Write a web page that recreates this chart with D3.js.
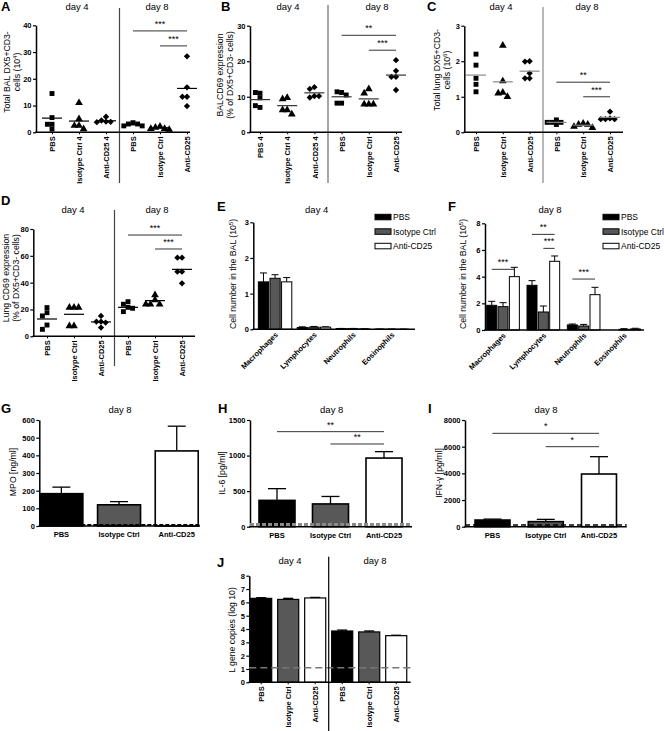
<!DOCTYPE html>
<html><head><meta charset="utf-8">
<script src="https://cdn.jsdelivr.net/npm/d3@7"></script>
<style>
body{margin:0;background:#fff;}
svg{display:block;font-family:'Liberation Sans',Arial,Helvetica,sans-serif;}
</style></head><body>
<script>
// ================= DATA =================
const dayLabels = ["day 4", "day 8"];
const labelsA = ["PBS", "Isotype Ctrl 4", "Anti-CD25 4", "PBS", "Isotype Ctrl", "Anti-CD25"];
const labelsB = ["PBS 4", "Isotype Ctrl 4", "Anti-CD25 4", "PBS", "Isotype Ctrl", "Anti-CD25"];
const labelsCD = ["PBS", "Isotype Ctrl", "Anti-CD25", "PBS", "Isotype Ctrl", "Anti-CD25"];

// A: Total BAL DX5+CD3- cells (10^4)
const valuesA = [[14.5, 5.5, 3, 3, 1.2], [11, 5, 2.5, 2.5, 1.2], [5.8, 4.4, 4, 3.9, 3.8],
                 [3.6, 3.1, 3.1, 2.4, 2.4], [2.2, 1.8, 1.3, 1.3, 1.0], [28.4, 16.8, 13.3, 13.3, 9.8]];
const meansA = [5.3, 4.2, 4.3, 2.8, 1.7, 16.4];
const ticksA = [0, 10, 20, 30, 40];
const sigA = [{a: 3, b: 5, v: 37.9, t: "***"}, {a: 4, b: 5, v: 32.3, t: "***"}];

// B: BALCD69 expression (% of DX5+CD3- cells)
const valuesB = [[11, 11.2, 9.7, 7, 7.5], [9.7, 9.4, 6.3, 6.3, 5.1], [12.7, 12.2, 10.2, 9.8, 10.2],
                 [11.2, 11.4, 10.5, 8.2, 8.2], [12.2, 11, 7.9, 7.9, 7.9], [20.3, 17.3, 15.6, 15.6, 11.9]];
const meansB = [9.2, 7.5, 11.1, 10.0, 9.4, 16.1];
const ticksB = [0, 10, 20, 30];
const sigB = [{a: 3, b: 5, v: 27.3, t: "**"}, {a: 4, b: 5, v: 23.1, t: "***"}];

// C: Total lung DX5+CD3- cells (10^6)
const valuesC = [[2.2, 1.89, 1.52, 1.35, 1.14], [2.44, 1.44, 1.12, 1.1, 1.0], [2.0, 1.99, 1.66, 1.52, 1.52],
                 [0.35, 0.28, 0.28, 0.28, 0.22], [0.25, 0.22, 0.22, 0.16, 0.13], [0.58, 0.39, 0.37, 0.37, 0.37]];
const meansC = [1.61, 1.42, 1.72, 0.28, 0.2, 0.42];
const ticksC = [0, 1, 2, 3];
const sigC = [{a: 3, b: 5, v: 1.41, t: "**"}, {a: 4, b: 5, v: 1.0, t: "***"}];

// D: Lung CD69 expression (% of DX5+CD3- cells)
const valuesD = [[21.4, 17.6, 15.2, 8.4, 5.2], [21.4, 21.4, 21.4, 7.7, 7.7], [15.2, 10.9, 10.9, 10.2, 6.5],
                 [25.8, 23.9, 21.6, 20.9, 18.4], [30.8, 27.1, 23.9, 23.9, 23.9], [58.6, 58.6, 48.2, 48.2, 39.5]];
const meansD = [12.9, 16.4, 10.7, 21.6, 26.6, 49.9];
const ticksD = [0, 20, 40, 60, 80];
const sigD = [{a: 3, b: 5, v: 75.5, t: "***"}, {a: 4, b: 5, v: 65.1, t: "***"}];

// E / F: Cell number in the BAL (10^5)
const cellTypes = ["Macrophages", "Lymphocytes", "Neutrophils", "Eosinophils"];
const treatments = ["PBS", "Isotype Ctrl", "Anti-CD25"];
const meansE = [[1.33, 0.05, 0.02, 0.005], [1.43, 0.06, 0.02, 0.005], [1.33, 0.06, 0.012, 0.003]];
const errE = [[0.25, 0.02, 0.005, 0.002], [0.1, 0.02, 0.005, 0.002], [0.12, 0.01, 0.003, 0.001]];
const ticksE = [0, 1, 2, 3];
const meansF = [[1.85, 3.35, 0.38, 0], [1.75, 1.35, 0.3, 0.05], [4.0, 5.15, 2.65, 0.08]];
const errF = [[0.3, 0.35, 0.07, 0], [0.3, 0.45, 0.12, 0.05], [0.7, 0.4, 0.55, 0.05]];
const ticksF = [0, 2, 4, 6, 8];
const sigF = [{g: 0, a: 0, b: 2, v: 4.55, t: "***"}, {g: 1, a: 0, b: 2, v: 7.17, t: "**"},
              {g: 1, a: 1, b: 2, v: 6.12, t: "***"}, {g: 2, a: 0, b: 2, v: 3.82, t: "***"}];

// G / H / I
const barLabels = ["PBS", "Isotype Ctrl", "Anti-CD25"];
const mpo = [183, 120, 425];
const mpoErr = [37, 18, 140];
const ticksG = [0, 100, 200, 300, 400, 500, 600];
const mpoLimit = 5;
const il6 = [370, 320, 965];
const il6Err = [165, 105, 90];
const ticksH = [0, 500, 1000, 1500];
const il6Limit = 30;
const sigH = [{a: 0, b: 2, v: 1336, t: "**"}, {a: 1, b: 2, v: 1163, t: "**"}];
const ifng = [500, 380, 3950];
const ifngErr = [70, 170, 1300];
const ticksI = [0, 2000, 4000, 6000, 8000];
const ifngLimit = 130;
const sigI = [{a: 0, b: 2, v: 7000, t: "*"}, {a: 1, b: 2, v: 6000, t: "*"}];

// J: L gene copies (log 10)
const lgene = [6.3, 6.22, 6.33, 3.85, 3.78, 3.5];
const lgeneErr = [0.05, 0.08, 0.04, 0.07, 0.07, 0.03];
const ticksJ = [0, 1, 2, 3, 4, 5, 6, 7, 8];
const lgeneLimit = 1.1;

// ================= DRAWING =================
const FF = "'Liberation Sans',Arial,Helvetica,sans-serif";
const fills = ["#000000", "#585858", "#ffffff"];
const svg = d3.select("body").append("svg").attr("width", 664).attr("height", 731);

function letter(t, x, y) {
  svg.append("text").attr("x", x).attr("y", y).attr("font-size", 13).attr("font-weight", "bold").text(t);
}
function dayText(t, x, y) {
  svg.append("text").attr("x", x).attr("y", y).attr("text-anchor", "middle").attr("font-size", 9.5).text(t);
}
function yTitle(lines, xs, yc) {
  lines.forEach((segs, i) => {
    const t = svg.append("text").attr("transform", `translate(${xs[i]},${yc}) rotate(-90)`)
      .attr("text-anchor", "middle").attr("dy", "0.35em").attr("font-size", 8.7);
    let shifted = false;
    segs.forEach(s => {
      if (typeof s === "string") {
        const ts = t.append("tspan").text(s);
        if (shifted) { ts.attr("dy", 3); shifted = false; }
      } else {
        t.append("tspan").attr("dy", -3).attr("font-size", 6).text(s.sup);
        shifted = true;
      }
    });
  });
}
function yAxis(scale, x, ticks) {
  const g = svg.append("g").attr("transform", `translate(${x},0)`)
    .call(d3.axisLeft(scale).tickValues(ticks).tickSize(3).tickSizeOuter(0).tickPadding(1.5).tickFormat(d3.format("d")));
  g.attr("font-family", FF).attr("font-size", 7.5).attr("font-weight", "bold");
  g.select(".domain").attr("stroke", "#000").attr("stroke-width", 1.5);
  g.selectAll(".tick line").attr("stroke", "#000").attr("stroke-width", 1.2);
  g.selectAll(".tick text").attr("fill", "#000");
}
function hLine(x1, x2, y, color, w, dash) {
  const l = svg.append("line").attr("x1", x1).attr("x2", x2).attr("y1", y).attr("y2", y)
    .attr("stroke", color).attr("stroke-width", w);
  if (dash) l.attr("stroke-dasharray", dash);
  return l;
}
function vLine(x, y1, y2, color, w) {
  return svg.append("line").attr("x1", x).attr("x2", x).attr("y1", y1).attr("y2", y2)
    .attr("stroke", color).attr("stroke-width", w);
}
function bracket(x1, x2, y, label) {
  hLine(x1, x2, y, "#333", 1);
  svg.append("text").attr("x", (x1 + x2) / 2).attr("y", y - 4).attr("text-anchor", "middle")
    .attr("font-size", 9).text(label);
}
function styleXAxis(g) {
  g.attr("font-family", FF).attr("font-size", 7.5).attr("font-weight", "bold");
  g.select(".domain").remove();
  g.selectAll(".tick line").attr("stroke", "#000");
  g.selectAll(".tick text").attr("fill", "#000");
}
function spread(ys, s) {
  const placed = [];
  return ys.map(yy => {
    for (let k = 0; k < 14; k++) {
      const off = k === 0 ? 0 : (k % 2 ? -1 : 1) * Math.ceil(k / 2) * s;
      if (!placed.some(p => Math.abs(p[0] - off) < s * 0.95 && Math.abs(p[1] - yy) < s * 0.95)) {
        placed.push([off, yy]); return off;
      }
    }
    return 0;
  });
}

const symTypes = [d3.symbolSquare, d3.symbolTriangle, d3.symbolSquare];
const symSizes = [24, 26, 20];

function dotPanel(o) {
  const x = d3.scalePoint().domain(d3.range(o.labels.length)).range(o.catRange);
  const y = d3.scaleLinear().domain([0, o.ticks[o.ticks.length - 1]]).range([o.y0, o.yTop]);
  const divX = (x(2) + x(3)) / 2;
  vLine(divX, o.divTop, o.divBottom, o.divColor, o.divWidth);
  yAxis(y, o.axisX, o.ticks);
  hLine(o.axisX - 0.75, o.axisEnd, o.y0, "#000", 1.5);
  const gx = svg.append("g").attr("transform", `translate(0,${o.y0})`)
    .call(d3.axisBottom(x).tickSize(2).tickFormat(i => o.labels[i]));
  styleXAxis(gx);
  gx.selectAll("text").attr("transform", "rotate(-90)").attr("text-anchor", "end")
    .attr("x", -4).attr("y", 0).attr("dy", "0.35em");
  dayText(dayLabels[0], o.dayX[0], o.dayY);
  dayText(dayLabels[1], o.dayX[1], o.dayY);
  o.values.forEach((vals, i) => {
    const ys = vals.map(v => y(v));
    const offs = spread(ys, 4.6);
    const sym = d3.symbol().type(symTypes[i % 3]).size(symSizes[i % 3]);
    vals.forEach((v, j) => {
      svg.append("path").attr("d", sym())
        .attr("transform", `translate(${x(i) + offs[j]},${y(v)})` + (i % 3 === 2 ? " rotate(45)" : ""))
        .attr("fill", "#000");
    });
    hLine(x(i) - 10, x(i) + 10, y(o.means[i]), o.meanColor, 1.2);
  });
  o.sig.forEach(s => bracket(x(s.a), x(s.b), y(s.v), s.t));
}

function groupedPanel(o) {
  const x0 = d3.scaleBand().domain(cellTypes).range(o.range).paddingInner(o.pi).paddingOuter(o.po);
  const x1 = d3.scaleBand().domain(d3.range(treatments.length)).range([0, x0.bandwidth()]).paddingInner(0.12);
  const y = d3.scaleLinear().domain([0, o.ticks[o.ticks.length - 1]]).range([o.y0, o.yTop]);
  yAxis(y, o.axisX, o.ticks);
  o.means.forEach((row, t) => {
    row.forEach((m, c) => {
      const bx = x0(cellTypes[c]) + x1(t);
      const bw = x1.bandwidth();
      const cx = bx + bw / 2;
      const e = o.errs[t][c];
      if (e > 0) {
        vLine(cx, y(m), y(m + e), "#000", 1);
        hLine(cx - 3.5, cx + 3.5, y(m + e), "#000", 1);
      }
      if (m > 0) {
        svg.append("rect").attr("x", bx).attr("y", y(m)).attr("width", bw).attr("height", o.y0 - y(m))
          .attr("fill", fills[t]).attr("stroke", "#000").attr("stroke-width", 1);
      }
    });
  });
  hLine(o.axisX - 0.75, o.axisEnd, o.y0, "#000", 1.5);
  const gx = svg.append("g").attr("transform", `translate(0,${o.y0})`)
    .call(d3.axisBottom(x0).tickSize(0));
  styleXAxis(gx);
  gx.selectAll("text").attr("transform", "rotate(-45)").attr("text-anchor", "end")
    .attr("x", -2).attr("y", 4).attr("dy", "0.35em");
  dayText(o.day, o.dayX, o.dayY);
  treatments.forEach((t, i) => {
    const ly = o.legY + i * 14.5;
    svg.append("rect").attr("x", o.legX).attr("y", ly).attr("width", 16).attr("height", 5.5)
      .attr("fill", fills[i]).attr("stroke", "#000").attr("stroke-width", 1);
    svg.append("text").attr("x", o.legX + 18).attr("y", ly + 5.8).attr("font-size", 8.5).text(t);
  });
  (o.sig || []).forEach(s => {
    const g = cellTypes[s.g];
    bracket(x0(g) + x1(s.a) + x1.bandwidth() / 2, x0(g) + x1(s.b) + x1.bandwidth() / 2, y(s.v), s.t);
  });
}

function simpleBar(o) {
  const x = d3.scaleBand().domain(d3.range(o.values.length)).range(o.range).paddingInner(o.pi).paddingOuter(o.po);
  const y = d3.scaleLinear().domain([0, o.ticks[o.ticks.length - 1]]).range([o.y0, o.yTop]);
  yAxis(y, o.axisX, o.ticks);
  o.values.forEach((v, i) => {
    const cx = x(i) + x.bandwidth() / 2;
    vLine(cx, y(v), y(v + o.errs[i]), "#000", 1.3);
    hLine(cx - o.cap / 2, cx + o.cap / 2, y(v + o.errs[i]), "#000", 1.3);
    svg.append("rect").attr("x", x(i)).attr("y", y(v)).attr("width", x.bandwidth()).attr("height", o.y0 - y(v))
      .attr("fill", fills[i % 3]).attr("stroke", "#000").attr("stroke-width", o.barStroke);
  });
  hLine(o.axisX - 0.75, o.axisEnd, o.y0, "#000", 1.5);
  hLine(o.axisX, o.axisEnd, y(o.limit), o.limitColor, o.limitWidth, o.limitDash);
  const gx = svg.append("g").attr("transform", `translate(0,${o.y0})`)
    .call(d3.axisBottom(x).tickSize(o.rotate ? 2 : 0).tickPadding(o.rotate ? 3 : 6).tickFormat(i => o.labels[i]));
  styleXAxis(gx);
  if (o.rotate) {
    gx.selectAll("text").attr("transform", "rotate(-90)").attr("text-anchor", "end")
      .attr("x", -4).attr("y", 0).attr("dy", "0.35em");
  }
  (o.sig || []).forEach(s => bracket(x(s.a) + x.bandwidth() / 2, x(s.b) + x.bandwidth() / 2, y(s.v), s.t));
  return x;
}

// ---------- Panel A ----------
letter("A", 1, 11);
yTitle([["Total BAL DX5+CD3-"], ["cells (10", {sup: "4"}, ")"]], [7, 17], 72);
dotPanel({labels: labelsA, values: valuesA, means: meansA, ticks: ticksA, sig: sigA,
  axisX: 36, axisEnd: 190, y0: 132.3, yTop: 25.3, catRange: [52, 187],
  divTop: 8, divBottom: 183, divColor: "#444", divWidth: 1.2, dayX: [77, 157], dayY: 9.5, meanColor: "#000"});

// ---------- Panel B ----------
letter("B", 221, 11);
yTitle([["BALCD69 expression"], ["(% of DX5+CD3- cells)"]], [220, 230], 75);
dotPanel({labels: labelsB, values: valuesB, means: meansB, ticks: ticksB, sig: sigB,
  axisX: 250, axisEnd: 402, y0: 132.3, yTop: 25.7, catRange: [260, 396],
  divTop: 5, divBottom: 183, divColor: "#888", divWidth: 1.5, dayX: [288, 377], dayY: 9.5, meanColor: "#333"});

// ---------- Panel C ----------
letter("C", 427, 11);
yTitle([["Total lung DX5+CD3-"], ["cells (10", {sup: "6"}, ")"]], [437, 447], 70);
dotPanel({labels: labelsCD, values: valuesC, means: meansC, ticks: ticksC, sig: sigC,
  axisX: 464.3, axisEnd: 623, y0: 132.3, yTop: 25.7, catRange: [476, 610],
  divTop: 7, divBottom: 183, divColor: "#888", divWidth: 1.2, dayX: [501, 587], dayY: 9.5, meanColor: "#888"});

// ---------- Panel D ----------
letter("D", 1, 205);
yTitle([["Lung CD69 expression"], ["(% of DX5+CD3- cells)"]], [6, 16], 278);
dotPanel({labels: labelsCD, values: valuesD, means: meansD, ticks: ticksD, sig: sigD,
  axisX: 33.3, axisEnd: 195, y0: 336.3, yTop: 229, catRange: [47, 182],
  divTop: 210, divBottom: 366, divColor: "#444", divWidth: 1.2, dayX: [73, 157], dayY: 213.3, meanColor: "#000"});

// ---------- Panel E ----------
letter("E", 217, 211);
yTitle([["Cell number in the BAL (10", {sup: "5"}, ")"]], [233], 274);
groupedPanel({means: meansE, errs: errE, ticks: ticksE, axisX: 253.3, axisEnd: 415, y0: 329.3, yTop: 222.3,
  range: [256.4, 410.4], pi: 0.14, po: 0.05, day: dayLabels[0], dayX: 316.7, dayY: 213.3, legX: 375, legY: 214.3});

// ---------- Panel F ----------
letter("F", 448, 211);
yTitle([["Cell number in the BAL (10", {sup: "5"}, ")"]], [463], 274);
groupedPanel({means: meansF, errs: errF, ticks: ticksF, sig: sigF, axisX: 485, axisEnd: 644, y0: 330, yTop: 223.3,
  range: [484.7, 642.3], pi: 0.19, po: 0.05, day: dayLabels[1], dayX: 550, dayY: 213.3, legX: 603, legY: 214.3});

// ---------- Panel G ----------
letter("G", 1, 413);
yTitle([["MPO [ng/ml]"]], [13], 472);
dayText(dayLabels[1], 120, 413.3);
simpleBar({values: mpo, errs: mpoErr, labels: barLabels, ticks: ticksG, axisX: 39.3, axisEnd: 200, y0: 526, yTop: 420,
  range: [39.3, 198.8], pi: 0.255, po: 0.01, cap: 18, barStroke: 1.6,
  limit: mpoLimit, limitColor: "#000", limitWidth: 2, limitDash: "4,2"});

// ---------- Panel H ----------
letter("H", 218, 413);
yTitle([["IL-6 [pg/ml]"]], [221.5], 473);
dayText(dayLabels[1], 331.7, 413.3);
simpleBar({values: il6, errs: il6Err, labels: barLabels, ticks: ticksH, sig: sigH, axisX: 250, axisEnd: 412, y0: 526.7, yTop: 420,
  range: [250, 411], pi: 0.327, po: 0.168, cap: 18, barStroke: 1.6,
  limit: il6Limit, limitColor: "#8a8a8a", limitWidth: 3, limitDash: "4,2"});

// ---------- Panel I ----------
letter("I", 428, 413);
yTitle([["IFN-γ [pg/ml]"]], [438.5], 473);
dayText(dayLabels[1], 546, 413.3);
simpleBar({values: ifng, errs: ifngErr, labels: barLabels, ticks: ticksI, sig: sigI, axisX: 465, axisEnd: 626.7, y0: 526.7, yTop: 420,
  range: [464.9, 626.6], pi: 0.343, po: 0.19, cap: 18, barStroke: 1.6,
  limit: ifngLimit, limitColor: "#000", limitWidth: 1.5, limitDash: "5,3"});

// ---------- Panel J ----------
letter("J", 217, 567);
yTitle([["L gene copies (log 10)"]], [232], 630);
const xJ = simpleBar({values: lgene, errs: lgeneErr, labels: labelsCD, ticks: ticksJ, axisX: 249.3, axisEnd: 410.7, y0: 682.3, yTop: 575.7,
  range: [249.3, 408.1], pi: 0.22, po: 0.05, cap: 10, barStroke: 1.2, rotate: true,
  limit: lgeneLimit, limitColor: "#777", limitWidth: 1.5, limitDash: "7,4"});
const divJ = (xJ(2) + xJ.bandwidth() + xJ(3)) / 2;
vLine(divJ, 556.7, 731, "#000", 1.2);
dayText(dayLabels[0], 290, 564.3);
dayText(dayLabels[1], 375, 564.3);
</script>
</body></html>
